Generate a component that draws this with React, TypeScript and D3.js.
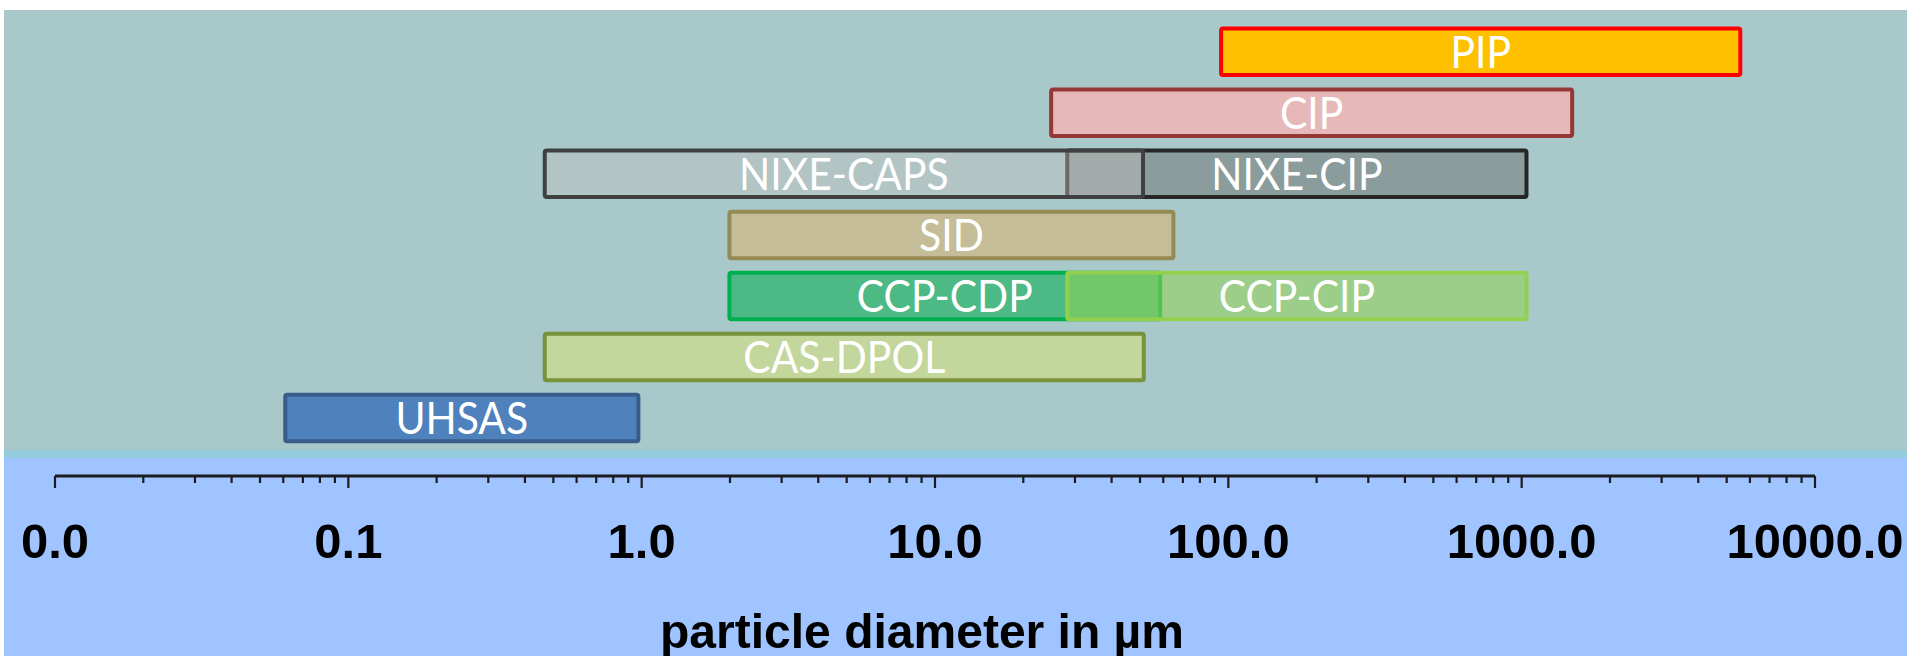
import React from 'react';
import * as d3 from 'd3';

// ---- data ----
const instruments = ['PIP', 'CIP', 'NIXE-CIP', 'NIXE-CAPS', 'SID', 'CCP-CDP', 'CCP-CIP', 'CAS-DPOL', 'UHSAS'];
const rowIndex = [0, 1, 2, 2, 3, 4, 4, 5, 6];
const minDiameter = [93, 24.5, 27.8, 0.46, 1.96, 1.96, 27.8, 0.46, 0.06];
const maxDiameter = [5650, 1510, 1055, 52, 66, 59.5, 1055, 52.3, 0.99];
const fillColors = ['#FFC000', '#E6B8B7', '#8A9C9C', '#C2BFBD', '#C4BD97', '#4DB985', '#92D356', '#C3D69B', '#4F81BD'];
const fillOpacities = [1, 1, 1, 0.45, 1, 1, 0.55, 1, 1];
const strokeColors = ['#FF0000', '#953735', '#262626', '#404040', '#948A54', '#00B050', '#92D050', '#77933C', '#385D8A'];
const tickValues = [0.01, 0.1, 1, 10, 100, 1000, 10000];
const tickLabels = ['0.0', '0.1', '1.0', '10.0', '100.0', '1000.0', '10000.0'];
const axisTitle = 'particle diameter in µm';

const W = 1907;
const H = 656;

export default function App() {
  const x = d3.scaleLog().domain([0.01, 10000]).range([55, 1815]);
  const rows = d3.range(7);
  const y = d3.scaleBand<number>().domain(rows).range([26.5, 443.3]).paddingInner(0.173).paddingOuter(0);
  const bw = y.bandwidth();
  const sw = 4;
  const axisY = 476;
  const minorTicks = x.ticks().filter((t) => t >= 0.01 && t <= 10000);
  const isMajor = (t: number) => Math.abs(Math.log10(t) - Math.round(Math.log10(t))) < 1e-9;

  return (
    <svg
      width={W}
      height={H}
      viewBox={`0 0 ${W} ${H}`}
      style={{ position: 'absolute', left: 0, top: 0, display: 'block' }}
    >
      <rect x={0} y={0} width={W} height={H} fill="#FFFFFF" />
      <rect x={4} y={10} width={W - 4} height={440} fill="#A8C8CA" />
      <rect x={4} y={450} width={W - 4} height={8} fill="#94CCDE" />
      <rect x={4} y={458} width={W - 4} height={H - 458} fill="#A0C4FF" />

      {instruments.map((name, i) => {
        const x0 = x(minDiameter[i]);
        const x1 = x(maxDiameter[i]);
        const top = y(rowIndex[i]) as number;
        return (
          <g key={name}>
            <rect
              x={x0 + sw / 2}
              y={top + sw / 2}
              width={x1 - x0 - sw}
              height={bw - sw}
              rx={2}
              fill={fillColors[i]}
              fillOpacity={fillOpacities[i]}
              stroke={strokeColors[i]}
              strokeWidth={sw}
            />
          </g>
        );
      })}
      {instruments.map((name, i) => {
        const cx = (x(minDiameter[i]) + x(maxDiameter[i])) / 2;
        const cy = (y(rowIndex[i]) as number) + bw / 2;
        return (
          <text
            key={'l' + name}
            transform={`translate(${cx},${cy + 16}) scale(0.93,1)`}
            textAnchor="middle"
            fontFamily="Lato, 'Open Sans', sans-serif"
            fontSize={44}
            fill="#FFFFFF"
          >
            {name}
          </text>
        );
      })}

      <line x1={x(0.01)} x2={x(10000)} y1={axisY} y2={axisY} stroke="#1A1C20" strokeWidth={2.8} />
      {minorTicks.map((t) => (
        <line
          key={'t' + t}
          x1={x(t)}
          x2={x(t)}
          y1={axisY}
          y2={axisY + (isMajor(t) ? 12 : 7)}
          stroke="#1A1C20"
          strokeWidth={2.2}
        />
      ))}
      {tickValues.map((t, i) => (
        <text
          key={'tl' + t}
          x={x(t)}
          y={558}
          textAnchor="middle"
          fontFamily="'Liberation Sans', Arial, sans-serif"
          fontWeight="bold"
          fontSize={49}
          fill="#000000"
        >
          {tickLabels[i]}
        </text>
      ))}
      <text
        transform={`translate(${(x(0.01) + x(10000)) / 2 - 13},648) scale(0.98,1)`}
        textAnchor="middle"
        fontFamily="'Liberation Sans', Arial, sans-serif"
        fontWeight="bold"
        fontSize={49}
        fill="#000000"
      >
        {axisTitle}
      </text>
    </svg>
  );
}
